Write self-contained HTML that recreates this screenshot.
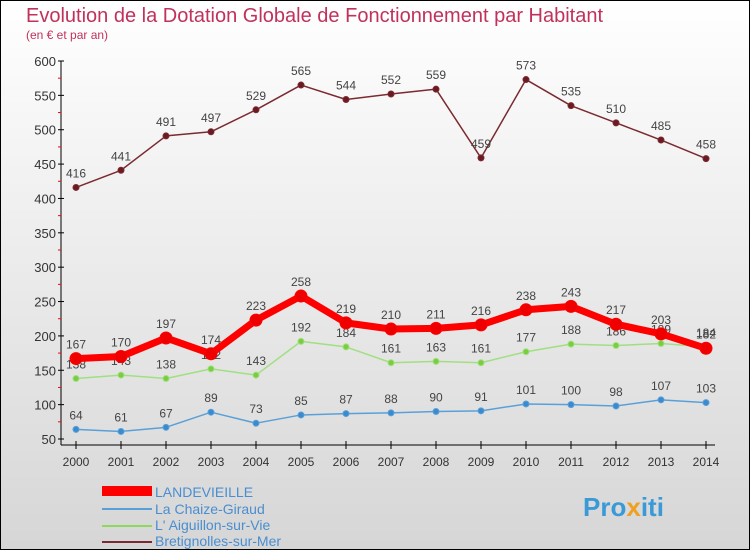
<!DOCTYPE html>
<html><head><meta charset="utf-8"><style>
body{margin:0;width:750px;height:550px;overflow:hidden}
svg{display:block;font-family:"Liberation Sans",sans-serif}
</style></head><body>
<svg id="c" width="750" height="550">
<defs><linearGradient id="bg" x1="0" y1="0" x2="0" y2="1"><stop offset="0" stop-color="#ffffff"/><stop offset="1" stop-color="#d6d6d6"/></linearGradient></defs>
<rect x="0.5" y="0.5" width="749" height="549" fill="url(#bg)" stroke="#000"/>
<text x="26" y="22" font-size="20" fill="#c0325a">Evolution de la Dotation Globale de Fonctionnement par Habitant</text>
<text x="26" y="39" font-size="12" fill="#c0325a">(en € et par an)</text>
<g id="axes"></g><g id="series"></g>
<g>
<rect x="102" y="486" width="50" height="10" fill="#f00"/>
<text x="155" y="497" font-size="14" fill="#4a8ecf">LANDEVIEILLE</text>
<rect x="102" y="508" width="50" height="2" fill="#5aa0d8"/>
<text x="155" y="514" font-size="14" fill="#4a8ecf">La Chaize-Giraud</text>
<rect x="102" y="525" width="50" height="2" fill="#8fd860"/>
<text x="155" y="530" font-size="14" fill="#4a8ecf">L' Aiguillon-sur-Vie</text>
<rect x="102" y="541" width="50" height="2" fill="#7a2a30"/>
<text x="155" y="546" font-size="14" fill="#4a8ecf">Bretignolles-sur-Mer</text>
</g>
<text x="583" y="516" font-size="26" font-weight="bold" fill="#3a9ad8">Pro<tspan fill="#f0a020">x</tspan>iti</text>
</svg>
<script>
const years=[2000,2001,2002,2003,2004,2005,2006,2007,2008,2009,2010,2011,2012,2013,2014];
const yTicks=[50,100,150,200,250,300,350,400,450,500,550,600];
const landevieille=[167,170,197,174,223,258,219,210,211,216,238,243,217,203,182];
const chaize=[64,61,67,89,73,85,87,88,90,91,101,100,98,107,103];
const aiguillon=[138,143,138,152,143,192,184,161,163,161,177,188,186,189,184];
const bretignolles=[416,441,491,497,529,565,544,552,559,459,573,535,510,485,458];
const NS="http://www.w3.org/2000/svg";
const X=i=>76+i*45, Y=v=>439-(v-50)*(378/550);
function mk(t,a,p){const e=document.createElementNS(NS,t);for(const k in a)e.setAttribute(k,a[k]);p.appendChild(e);return e;}
const ax=document.getElementById('axes'),sg=document.getElementById('series');
let l=mk('line',{x1:61,y1:61,x2:61,y2:445,stroke:'#000'},ax);

l=mk('line',{x1:61,y1:445,x2:715,y2:445,stroke:'#000'},ax);

yTicks.forEach((v,i)=>{const y=Y(v);mk('line',{x1:58,y1:y,x2:64,y2:y,stroke:'#000'},ax);
 if(i<yTicks.length-1){mk('line',{x1:58,y1:Y(v+25),x2:61,y2:Y(v+25),stroke:'#f00'},ax);}
 const t=mk('text',{x:56,y:y+5,'font-size':13,'text-anchor':'end',fill:'#333'},ax);t.textContent=v;
 });
years.forEach((yr,i)=>{mk('line',{x1:X(i),y1:441,x2:X(i),y2:449,stroke:'#000'},ax);
 const t=mk('text',{x:X(i),y:466,'font-size':12,'text-anchor':'middle',fill:'#333'},ax);t.textContent=yr;
 });
function series(d,name,col,w,r,dot){const g=mk('g',{},sg);
 mk('polyline',{points:d.map((v,i)=>X(i)+','+Y(v)).join(' '),fill:'none',stroke:col,'stroke-width':w,'stroke-linejoin':'round'},g);
 d.forEach((v,i)=>{const c=mk('circle',{cx:X(i),cy:Y(v),r:r,fill:dot,stroke:col,'stroke-width':1},g);
  
  const t=mk('text',{x:X(i),y:Y(v)-10,'font-size':12,'text-anchor':'middle',fill:'#444'},g);t.textContent=v;
  });}
series(chaize,'series-chaize','#5aa0d8',1.5,3,'#3a8ad0');
series(aiguillon,'series-aiguillon','#a0e080',1.5,3,'#7acc40');
series(bretignolles,'series-bretignolles','#7a2a30',1.5,3,'#6a1a20');
series(landevieille,'series-landevieille','#f00',7,6,'#e00');
</script>
</body></html>
